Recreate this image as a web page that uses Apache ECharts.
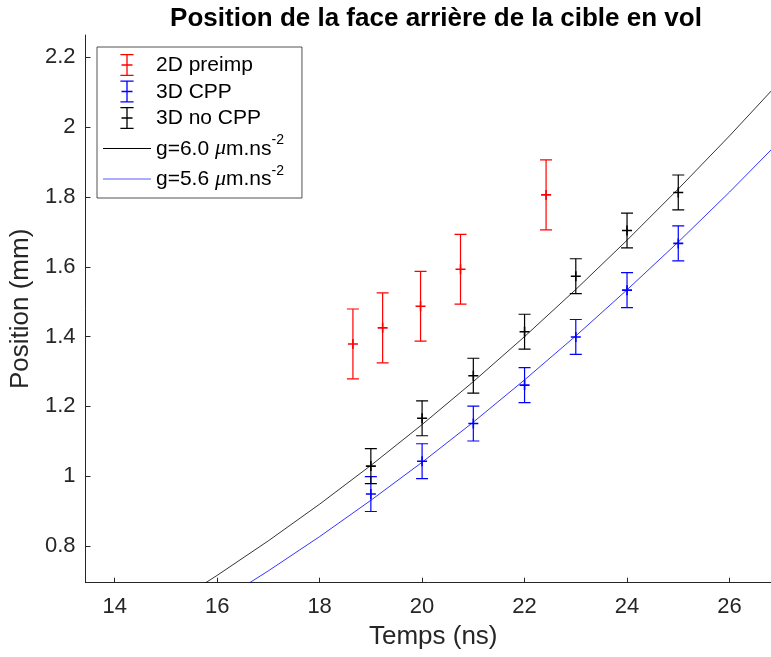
<!DOCTYPE html>
<html>
<head>
<meta charset="utf-8">
<script src="https://cdn.jsdelivr.net/npm/echarts@6/dist/echarts.min.js"></script>
<style>html,body{margin:0;padding:0;background:#fff;}#c{width:771px;height:657px;}</style>
</head>
<body>
<div id="c"></div>
<script>
// ---- data ----
const redTimes = [18.65, 19.23, 19.97, 20.75, 22.42];
const redValues = [1.379, 1.425, 1.487, 1.593, 1.806];
const redErr = [0.1, 0.1, 0.1, 0.1, 0.1];

const blueTimes = [19, 20, 21, 22, 23, 24, 25];
const blueValues = [0.949, 1.043, 1.151, 1.261, 1.399, 1.533, 1.667];
const blueErr = [0.05, 0.05, 0.05, 0.05, 0.05, 0.05, 0.05];

const blackTimes = [19, 20, 21, 22, 23, 24, 25];
const blackValues = [1.029, 1.166, 1.288, 1.414, 1.573, 1.704, 1.813];
const blackErr = [0.05, 0.05, 0.05, 0.05, 0.05, 0.05, 0.05];

const curveTimes = [15.5, 16, 17, 18, 19, 20, 21, 22, 23, 24, 25, 26, 27];
const curveG60 = [0.669, 0.716, 0.815, 0.920, 1.031, 1.148, 1.271, 1.400, 1.535, 1.676, 1.823, 1.975, 2.133];
const curveG56 = [0.592, 0.636, 0.729, 0.827, 0.931, 1.040, 1.155, 1.276, 1.402, 1.534, 1.671, 1.814, 1.963];

const xTicks = [14, 16, 18, 20, 22, 24, 26];
const yTicks = [0.8, 1.0, 1.2, 1.4, 1.6, 1.8, 2.0, 2.2];

const seriesNames = ['2D preimp', '3D CPP', '3D no CPP', 'g=6.0', 'g=5.6'];

// ---- chart ----
const FONT = 'Liberation Sans, Arial, sans-serif';
const AX = '#262626';

function errData(t, v, e) { return t.map((x, i) => [x, v[i], e[i]]); }

function renderErr(params, api) {
  const x = api.value(0), y = api.value(1), e = api.value(2);
  const c = api.coord([x, y]);
  const top = api.coord([x, y + e]);
  const bot = api.coord([x, y - e]);
  const color = api.visual('color');
  const hw = 6, m = 5;
  const st = { stroke: color, lineWidth: 1.2 };
  return {
    type: 'group',
    children: [
      { type: 'line', shape: { x1: c[0], y1: top[1], x2: c[0], y2: bot[1] }, style: st },
      { type: 'line', shape: { x1: c[0] - hw, y1: top[1], x2: c[0] + hw, y2: top[1] }, style: st },
      { type: 'line', shape: { x1: c[0] - hw, y1: bot[1], x2: c[0] + hw, y2: bot[1] }, style: st },
      { type: 'line', shape: { x1: c[0] - m, y1: c[1], x2: c[0] + m, y2: c[1] }, style: { stroke: color, lineWidth: 1.6 } },
      { type: 'line', shape: { x1: c[0], y1: c[1] - m, x2: c[0], y2: c[1] + m }, style: { stroke: color, lineWidth: 1.6 } }
    ]
  };
}

const errIcon = 'path://M0,0h12v1.2h-12zM0,18.8h12v1.2h-12zM5.4,0h1.2v20h-1.2zM1,9.4h10v1.2h-10z';
const lineIcon = 'path://M0,0h48v1h-48z';

const chart = echarts.init(document.getElementById('c'), null, { renderer: 'canvas' });
chart.setOption({
  backgroundColor: '#fff',
  animation: false,
  title: {
    text: 'Position de la face arrière de la cible en vol',
    left: 431, top: 1, textAlign: 'center',
    textStyle: { fontFamily: FONT, fontWeight: 'bold', fontSize: 26, color: '#000' }
  },
  grid: { left: 84.7, right: 0, top: 35, bottom: 74.3, containLabel: false },
  legend: {
    orient: 'vertical', left: 97, top: 47,
    padding: [7, 18, 8, 6],
    itemWidth: 48, itemHeight: 22, itemGap: 4.5,
    backgroundColor: '#fff', borderColor: AX, borderWidth: 0.8,
    data: [
      { name: seriesNames[0], icon: errIcon },
      { name: seriesNames[1], icon: errIcon },
      { name: seriesNames[2], icon: errIcon },
      { name: seriesNames[3], icon: lineIcon },
      { name: seriesNames[4], icon: lineIcon }
    ],
    formatter: function (name) {
      if (name.indexOf('g=') === 0) {
        return '{n|' + name + ' }{mu|μ}{n|m.ns}{sup|-2}';
      }
      return '{n|' + name + '}';
    },
    textStyle: {
      fontFamily: FONT, fontSize: 21, color: '#000',
      rich: {
        n: { fontFamily: FONT, fontSize: 21, color: '#000', lineHeight: 22, verticalAlign: 'bottom' },
        mu: { fontFamily: 'Liberation Serif, serif', fontStyle: 'italic', fontSize: 22, color: '#000', lineHeight: 22, verticalAlign: 'bottom' },
        sup: { fontFamily: FONT, fontSize: 14, color: '#000', lineHeight: 14, verticalAlign: 'bottom', padding: [0, 0, 12, 0] }
      }
    }
  },
  xAxis: {
    type: 'value', min: 13.43, max: 26.81,
    name: 'Temps (ns)', nameLocation: 'middle', nameGap: 41,
    nameTextStyle: { fontFamily: FONT, fontSize: 26, color: AX, padding: [0, 0, 0, 10] },
    axisLine: { show: true, onZero: false, lineStyle: { color: AX, width: 1 } },
    axisTick: { show: true, inside: true, length: 5, customValues: xTicks, lineStyle: { color: AX } },
    axisLabel: { customValues: xTicks, margin: 13, fontFamily: FONT, fontSize: 22, color: AX },
    splitLine: { show: false }
  },
  yAxis: {
    type: 'value', min: 0.695, max: 2.264,
    name: 'Position (mm)', nameLocation: 'middle', nameGap: 44,
    nameTextStyle: { fontFamily: FONT, fontSize: 26, color: AX },
    axisLine: { show: true, onZero: false, lineStyle: { color: AX, width: 1 } },
    axisTick: { show: true, inside: true, length: 5, customValues: yTicks, lineStyle: { color: AX } },
    axisLabel: {
      customValues: yTicks, margin: 10, fontFamily: FONT, fontSize: 22, color: AX,
      formatter: function (v) { return String(+(+v).toFixed(1)); }
    },
    splitLine: { show: false }
  },
  series: [
    {
      name: seriesNames[3], type: 'line', data: curveTimes.map((t, i) => [t, curveG60[i]]),
      showSymbol: false, symbol: 'none', clip: true, z: 1,
      lineStyle: { color: '#000', width: 0.8 }, itemStyle: { color: '#000' }
    },
    {
      name: seriesNames[4], type: 'line', data: curveTimes.map((t, i) => [t, curveG56[i]]),
      showSymbol: false, symbol: 'none', clip: true, z: 1,
      lineStyle: { color: '#0000ff', width: 0.8 }, itemStyle: { color: '#5a5aff' }
    },
    {
      name: seriesNames[0], type: 'custom', renderItem: renderErr, clip: true, z: 3,
      itemStyle: { color: '#ff0000' }, data: errData(redTimes, redValues, redErr)
    },
    {
      name: seriesNames[1], type: 'custom', renderItem: renderErr, clip: true, z: 3,
      itemStyle: { color: '#0000ff' }, data: errData(blueTimes, blueValues, blueErr)
    },
    {
      name: seriesNames[2], type: 'custom', renderItem: renderErr, clip: true, z: 3,
      itemStyle: { color: '#000' }, data: errData(blackTimes, blackValues, blackErr)
    }
  ]
});
</script>
</body>
</html>
